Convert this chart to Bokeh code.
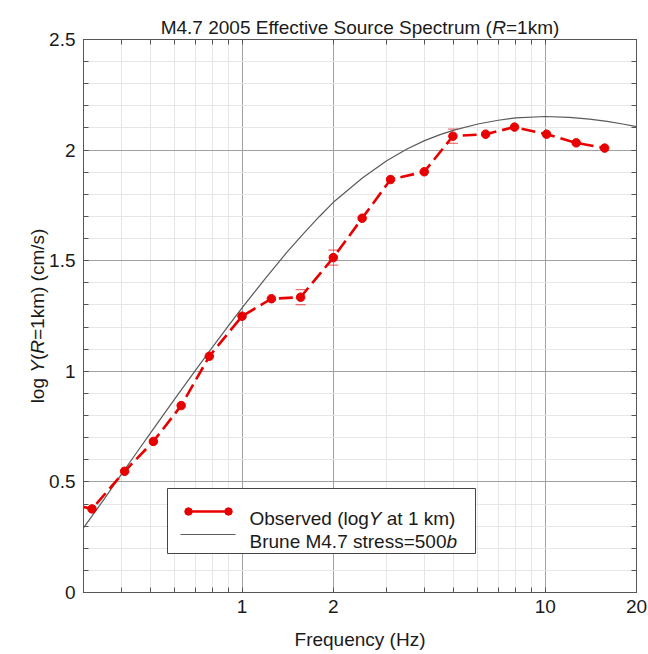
import math
from bokeh.plotting import figure
from bokeh.models import (FixedTicker, LogAxis, LinearAxis, Whisker, TeeHead,
                          ColumnDataSource, CustomJSTickFormatter, Range1d)
from bokeh.core.properties import value
from bokeh.embed import file_html
from bokeh.resources import INLINE

# ---------------- data ----------------
obs_freq = [0.25, 0.32, 0.41, 0.51, 0.63, 0.78, 1.0, 1.25, 1.56, 2.0, 2.49,
            3.09, 3.99, 4.96, 6.36, 7.92, 10.1, 12.65, 15.7]
obs_logy = [0.41, 0.378, 0.548, 0.683, 0.845, 1.068, 1.249, 1.328, 1.335, 1.514,
            1.692, 1.867, 1.902, 2.063, 2.072, 2.104, 2.072, 2.033, 2.009]

err_freq = [1.56, 2.0, 4.96]
err_low = [1.301, 1.480, 2.031]
err_high = [1.369, 1.548, 2.095]

brune_freq = [0.3, 0.35, 0.4, 0.45, 0.5, 0.6, 0.7, 0.8, 0.9, 1.0, 1.2, 1.4, 1.6,
              1.8, 2.0, 2.5, 3.0, 3.5, 4.0, 4.5, 5.0, 6.0, 7.0, 8.0, 10.0, 12.0,
              14.0, 16.0, 18.0, 20.0]
brune_logy = [0.292, 0.42, 0.534, 0.634, 0.723, 0.875, 1.002, 1.11, 1.204, 1.287,
              1.424, 1.535, 1.625, 1.70, 1.764, 1.875, 1.952, 2.005, 2.043, 2.07,
              2.09, 2.118, 2.135, 2.146, 2.152, 2.148, 2.140, 2.130, 2.118, 2.106]

x_major = [1, 2, 10, 20]
x_minor = [0.3, 0.4, 0.5, 0.6, 0.7, 0.8, 0.9, 3, 4, 5, 6, 7, 8, 9]
y_major = [0, 0.5, 1, 1.5, 2, 2.5]
y_minor = [round(0.1 * i, 1) for i in range(26)]

title_parts = [("M4.7 2005 Effective Source Spectrum (", "normal"), ("R", "italic"), ("=1km)", "normal")]
ylabel_parts = [("log ", "normal"), ("Y", "italic"), ("(", "normal"), ("R", "italic"),
                ("=1km) (cm/s)", "normal")]
xlabel_text = "Frequency (Hz)"
legend1_parts = [("Observed (log", "normal"), ("Y", "italic"), (" at 1 km)", "normal")]
legend2_parts = [("Brune M4.7 stress=500", "normal"), ("b", "italic")]

# ---------------- styling ----------------
RED = "#e80000"
GRAY_LINE = "#5a5a5a"
FONT = "Liberation Sans"
W, H = 648, 654
FL, FR, FT, FB = 83, 636, 39, 592   # frame edges (canvas px)
XMIN, XMAX, YMIN, YMAX = 0.3, 20.0, 0.0, 2.5

AW = {' ': 278, '(': 333, ')': 333, '=': 584, '/': 278, '.': 278, 'M': 833, 'E': 667,
      'S': 667, 'R': 722, 'Y': 667, 'H': 722, 'F': 611, 'B': 667, 'O': 778,
      'a': 556, 'b': 556, 'c': 500, 'd': 556, 'e': 556, 'f': 278, 'g': 556, 'h': 556,
      'i': 222, 'k': 500, 'l': 222, 'm': 833, 'n': 556, 'o': 556, 'p': 556, 'q': 556,
      'r': 333, 's': 500, 't': 278, 'u': 556, 'v': 500, 'y': 500, 'z': 500}


def tw(s, size):
    return sum(AW.get(c, 556) for c in s) / 1000.0 * size


def xd(cx):
    """canvas x (px) -> data x on the log axis"""
    lo, hi = math.log10(XMIN), math.log10(XMAX)
    return 10 ** (lo + (cx - FL) / (FR - FL) * (hi - lo))


def yd(cy):
    """canvas y (px from top) -> data y"""
    return YMIN + (FB - cy) / (FB - FT) * (YMAX - YMIN)


p = figure(width=W, height=H, x_axis_type="log", output_backend="svg",
           toolbar_location=None, x_range=Range1d(XMIN, XMAX), y_range=Range1d(YMIN, YMAX),
           min_border_left=FL, min_border_right=W - FR, min_border_top=FT,
           min_border_bottom=H - FB)
p.background_fill_color = "white"
p.border_fill_color = "white"
p.outline_line_color = "#555555"
p.outline_line_width = 1

xt = FixedTicker(ticks=x_major, minor_ticks=x_minor)
yt = FixedTicker(ticks=y_major, minor_ticks=y_minor)
fmt = CustomJSTickFormatter(code="return String(Math.round(tick*10)/10);")

p.xaxis.ticker = xt
p.yaxis.ticker = yt
p.xgrid.ticker = xt
p.ygrid.ticker = yt
p.xaxis.formatter = fmt
p.yaxis.formatter = fmt

for g in (p.xgrid, p.ygrid):
    g.grid_line_color = "#a0a0a0"
    g.grid_line_width = 1
    g.minor_grid_line_color = "#e6e6e6"
    g.minor_grid_line_width = 1


def style_axis(ax, labels=True):
    ax.major_tick_in = 5
    ax.major_tick_out = 0
    ax.minor_tick_in = 5
    ax.minor_tick_out = 0
    ax.axis_line_color = "#555555"
    ax.major_tick_line_color = "#555555"
    ax.minor_tick_line_color = "#555555"
    ax.major_label_text_font = FONT
    if labels:
        ax.major_label_text_color = "#1a1a1a"
        ax.major_label_text_font_size = "19px"
    else:
        ax.major_label_text_color = None
        ax.major_label_text_font_size = "4px"
        ax.major_label_standoff = 0


style_axis(p.xaxis[0])
style_axis(p.yaxis[0])
p.xaxis[0].major_label_standoff = 7
p.yaxis[0].major_label_standoff = 8
p.xaxis[0].axis_label = xlabel_text
p.xaxis[0].axis_label_text_font = FONT
p.xaxis[0].axis_label_text_font_style = "normal"
p.xaxis[0].axis_label_text_font_size = "19px"
p.xaxis[0].axis_label_text_color = "#1a1a1a"
p.xaxis[0].axis_label_standoff = 13

top_ax = LogAxis(ticker=xt, formatter=fmt)
right_ax = LinearAxis(ticker=yt, formatter=fmt)
style_axis(top_ax, labels=False)
style_axis(right_ax, labels=False)
p.add_layout(top_ax, "above")
p.add_layout(right_ax, "right")

# ---------------- data glyphs ----------------
brune = p.line(brune_freq, brune_logy, line_color=GRAY_LINE, line_width=1.2)

err_src = ColumnDataSource(dict(x=err_freq, lower=err_low, upper=err_high))
wk = Whisker(base="x", lower="lower", upper="upper", source=err_src,
             line_alpha=0.0,
             upper_head=TeeHead(size=10, line_color=RED, line_width=1, line_alpha=0.7),
             lower_head=TeeHead(size=10, line_color=RED, line_width=1, line_alpha=0.7))
p.add_layout(wk)

obs_line = p.line(obs_freq, obs_logy, line_color=RED, line_width=2.6, line_dash="14 6")
obs_pts = p.scatter(obs_freq, obs_logy, marker="circle", size=8.5, fill_color=RED,
                    line_color=RED)

# ---------------- legend (drawn by hand) ----------------
LEG_L, LEG_R, LEG_T, LEG_B = 167, 475, 488, 553
ROW1, ROW2 = 511, 534
p.quad(left=[xd(LEG_L)], right=[xd(LEG_R)], top=[yd(LEG_T)], bottom=[yd(LEG_B)],
       fill_color="white", line_color="#444444", line_width=1, level="overlay")
p.line([xd(188), xd(228)], [yd(ROW1), yd(ROW1)], line_color=RED, line_width=2.4,
       level="overlay")
p.scatter([xd(188), xd(228)], [yd(ROW1), yd(ROW1)], marker="circle", size=7.5,
          fill_color=RED, line_color=RED, level="overlay")
p.line([xd(180), xd(235)], [yd(ROW2), yd(ROW2)], line_color=GRAY_LINE, line_width=1.2,
       level="overlay")


# ---------------- text pieces (text glyphs) ----------------
def add_pieces(parts, x0, y0, size, angle=0.0, baseline="alphabetic"):
    """x0,y0 canvas coordinates (y from top) of the start of the text."""
    xs, ys, texts, styles = [], [], [], []
    off = 0.0
    for txt, style in parts:
        lead = len(txt) - len(txt.lstrip(" "))
        off += tw(txt[:lead], size)
        body = txt[lead:]
        if angle == 0.0:
            cx, cy = x0 + off, y0
        else:
            cx, cy = x0, y0 - off
        xs.append(xd(cx))
        ys.append(yd(cy))
        texts.append(body)
        styles.append(style)
        off += tw(body, size)
    src = ColumnDataSource(dict(x=xs, y=ys, text=texts, style=styles))
    p.text(x="x", y="y", text="text", source=src, text_font=value(FONT),
           text_font_style="style", text_font_size=value(f"{size}px"),
           text_color="#1a1a1a", text_align="left", text_baseline=baseline,
           angle=angle, level="overlay")


TS = 19
title_w = sum(tw(t, TS) for t, _ in title_parts)
add_pieces(title_parts, (FL + FR) / 2 - title_w / 2, 27, TS)

YS = 19
yl_w = sum(tw(t, YS) for t, _ in ylabel_parts)
add_pieces(ylabel_parts, 37, (FT + FB) / 2 + yl_w / 2, YS, angle=math.pi / 2)

add_pieces(legend1_parts, 249, ROW1 + 7, 19)
add_pieces(legend2_parts, 249, ROW2 + 7, 19)

open("out.html", "w").write(file_html(p, INLINE))
